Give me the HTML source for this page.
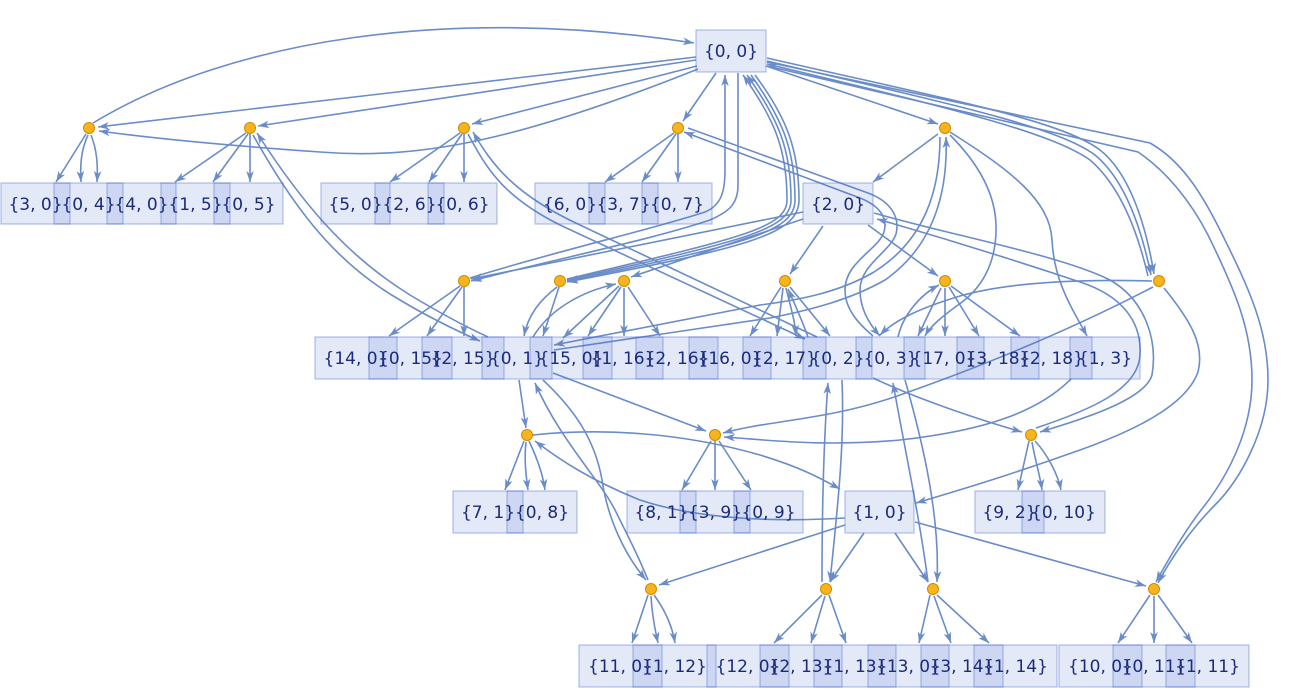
<!DOCTYPE html>
<html><head><meta charset="utf-8"><style>
html,body{margin:0;padding:0;background:#fff;}
svg{display:block}
.b rect{fill:rgb(75,110,210);fill-opacity:0.15;stroke:rgb(75,110,210);stroke-opacity:0.42;stroke-width:1.2}
.t text{font-family:"DejaVu Sans","Liberation Sans",sans-serif;font-size:17px;fill:#1a2b78;text-anchor:middle}
.e path{fill:none;stroke:#6a8cc8;stroke-width:1.6}
.dots circle{fill:#f6b51e;stroke:#d08a00;stroke-width:1}
</style></head><body>
<svg width="1296" height="692" viewBox="0 0 1296 692" xmlns="http://www.w3.org/2000/svg">
<defs>
<marker id="ae" markerUnits="userSpaceOnUse" markerWidth="14" markerHeight="10" viewBox="-12 -5 13 10" refX="0" refY="0" orient="auto"><path d="M0,0 L-11,-3.8 L-8,0 L-11,3.8 Z" fill="#6a8cc8"/></marker>
<marker id="as" markerUnits="userSpaceOnUse" markerWidth="14" markerHeight="10" viewBox="-12 -5 13 10" refX="0" refY="0" orient="auto-start-reverse"><path d="M0,0 L-11,-3.8 L-8,0 L-11,3.8 Z" fill="#6a8cc8"/></marker>
</defs>

<g class="e">
<!-- A -->
<path d="M93,123 C230,40 450,5 694,43" marker-end="url(#ae)"/>
<path d="M696,57 L98,127" marker-end="url(#ae)"/>
<path d="M698,69 C520,140 420,160 320,152 C220,145 150,138 99,131" marker-end="url(#ae)"/>
<path d="M86,134 L56,182" marker-end="url(#ae)"/>
<path d="M88,135 C81,150 80,165 81,182" marker-end="url(#ae)"/>
<path d="M91,135 C97,150 98,165 97,182" marker-end="url(#ae)"/>
<!-- B -->
<path d="M696,60 L258,126" marker-end="url(#ae)"/>
<path d="M246,133 L175,182" marker-end="url(#ae)"/>
<path d="M248,134 L213,182" marker-end="url(#ae)"/>
<path d="M250,134 L250,182" marker-end="url(#ae)"/>
<path d="M253,135 C290,200 330,260 400,300 C430,318 455,330 480,341" marker-end="url(#ae)"/>
<path d="M257,133 C300,200 345,255 410,295 C440,313 462,325 488,337" marker-start="url(#as)"/>
<!-- C -->
<path d="M697,66 L472,124" marker-end="url(#ae)"/>
<path d="M460,133 L390,182" marker-end="url(#ae)"/>
<path d="M462,134 L429,182" marker-end="url(#ae)"/>
<path d="M464,134 L464,182" marker-end="url(#ae)"/>
<path d="M468,134 C485,165 500,195 560,225 L805,339" marker-end="url(#ae)"/>
<path d="M473,132 C492,165 515,195 580,225 L817,337" marker-start="url(#as)"/>
<!-- D -->
<path d="M716,73 L683,121" marker-end="url(#ae)"/>
<path d="M674,133 L605,182" marker-end="url(#ae)"/>
<path d="M676,134 L642,182" marker-end="url(#ae)"/>
<path d="M678,134 L678,182" marker-end="url(#ae)"/>
<path d="M684,132 L860,198 C880,206 888,218 884,232 C878,250 845,262 845,290 C845,310 860,325 873,336" marker-start="url(#as)"/>
<path d="M688,128 L868,193 C892,202 900,218 896,234 C890,252 860,265 860,290 C860,310 870,325 880,336" marker-end="url(#ae)"/>
<!-- E -->
<path d="M766,66 L938,124" marker-end="url(#ae)"/>
<path d="M938,134 L873,182" marker-end="url(#ae)"/>
<path d="M950,135 C975,160 995,190 996,225 C997,265 980,290 958,305 C940,318 930,327 925,336" marker-end="url(#ae)"/>
<path d="M950,132 C1010,170 1050,200 1052,240 C1054,280 1070,305 1087,336" marker-end="url(#ae)"/>
<path d="M940,137 C940,190 925,240 874,272 C840,292 800,300 760,305 L554,345" marker-end="url(#ae)"/>
<path d="M946,137 C948,190 935,245 885,280 C850,300 810,310 770,318 L554,350" marker-start="url(#as)"/>
<!-- F -->
<path d="M470,278 C560,250 650,230 705,212 C722,205 725,190 725,170 L725,75" marker-end="url(#ae)"/>
<path d="M738,73 L738,185 C738,205 728,212 710,220 C650,240 560,258 471,281" marker-end="url(#ae)"/>
<path d="M803,212 L471,279" marker-end="url(#ae)"/>
<path d="M460,286 L389,336" marker-end="url(#ae)"/>
<path d="M462,287 L427,336" marker-end="url(#ae)"/>
<path d="M464,287 L464,336" marker-end="url(#ae)"/>
<!-- G -->
<path d="M743,75 C775,120 787,150 787,200 C787,228 740,238 567,279" marker-start="url(#as)"/>
<path d="M747,75 C779,120 791,150 791,200 C791,230 743,241 567,280" marker-start="url(#as)"/>
<path d="M751,75 C783,120 795,150 795,200 C795,232 746,244 567,281" marker-end="url(#ae)"/>
<path d="M755,75 C787,118 799,150 799,200 C799,234 749,247 567,282" marker-end="url(#ae)"/>
<path d="M557,287 C540,300 528,315 524,336" marker-end="url(#ae)"/>
<path d="M559,287 L543,336" marker-end="url(#ae)"/>
<!-- H -->
<path d="M803,219 L631,277" marker-end="url(#ae)"/>
<path d="M533,337 C548,312 578,292 616,284" marker-end="url(#ae)"/>
<path d="M619,286 L563,338" marker-end="url(#ae)"/>
<path d="M621,287 L588,336" marker-end="url(#ae)"/>
<path d="M624,288 L624,336" marker-end="url(#ae)"/>
<path d="M628,287 L660,336" marker-end="url(#ae)"/>
<!-- I -->
<path d="M823,226 L790,274" marker-end="url(#ae)"/>
<path d="M781,287 L750,336" marker-end="url(#ae)"/>
<path d="M783,288 L777,336" marker-end="url(#ae)"/>
<path d="M786,288 C790,305 795,320 796,336" marker-end="url(#ae)"/>
<path d="M790,287 L830,336" marker-end="url(#ae)"/>
<path d="M808,337 C800,315 793,300 788,289" marker-end="url(#ae)"/>
<!-- J -->
<path d="M868,225 L938,276" marker-end="url(#ae)"/>
<path d="M941,288 L918,336" marker-end="url(#ae)"/>
<path d="M945,288 L945,336" marker-end="url(#ae)"/>
<path d="M949,287 L979,336" marker-end="url(#ae)"/>
<path d="M951,286 L1020,336" marker-end="url(#ae)"/>
<path d="M898,337 C903,315 920,295 939,285" marker-end="url(#ae)"/>
<!-- K -->
<path d="M767,58 C950,100 1060,120 1100,150 C1128,172 1145,220 1154,274" marker-end="url(#ae)"/>
<path d="M767,61 C950,104 1055,126 1095,155 C1123,178 1140,222 1151,275" marker-end="url(#ae)"/>
<path d="M767,64 C950,108 1050,132 1090,160 C1118,184 1136,225 1148,276" marker-start="url(#as)"/>
<path d="M1152,281 C1080,279 1010,282 960,296 C920,308 895,320 880,335" marker-end="url(#ae)"/>
<path d="M1153,287 C1080,325 1000,360 900,395 C830,420 770,420 723,433" marker-end="url(#ae)"/>
<path d="M1164,288 C1190,320 1205,345 1198,372 C1188,400 1150,425 1080,450 C1010,475 960,490 916,503" marker-end="url(#ae)"/>
<!-- R long -->
<path d="M767,62 L1150,143 C1180,160 1200,190 1220,230 C1250,290 1268,330 1268,380 C1268,430 1240,480 1215,505 C1190,530 1170,560 1158,583" marker-end="url(#ae)"/>
<path d="M767,66 L1138,152 C1165,170 1190,200 1208,235 C1235,290 1252,330 1252,380 C1252,430 1228,475 1205,505 C1185,530 1168,560 1156,582" marker-end="url(#ae)"/>
<!-- N -->
<path d="M873,378 C920,400 980,420 1022,432" marker-end="url(#ae)"/>
<path d="M874,213 C950,235 1060,255 1110,280 C1145,300 1158,340 1152,375 C1145,400 1080,420 1040,432" marker-end="url(#ae)"/>
<path d="M1036,428 C1090,410 1138,390 1140,355 C1142,320 1120,295 1080,282 C1020,262 950,240 877,219" marker-end="url(#ae)"/>
<path d="M1071,379 C1040,410 990,430 900,440 C820,447 770,440 724,437" marker-end="url(#ae)"/>
<path d="M1029,441 L1018,490" marker-end="url(#ae)"/>
<path d="M1032,442 C1035,460 1040,475 1042,490" marker-end="url(#ae)"/>
<path d="M1035,441 C1048,455 1058,475 1061,490" marker-end="url(#ae)"/>
<!-- L -->
<path d="M519,380 L526,428" marker-end="url(#ae)"/>
<path d="M524,441 L505,490" marker-end="url(#ae)"/>
<path d="M526,442 C524,460 526,475 528,490" marker-end="url(#ae)"/>
<path d="M529,441 C538,460 543,475 545,490" marker-end="url(#ae)"/>
<path d="M533,435 C600,428 680,432 760,455 C800,467 820,478 840,489" marker-end="url(#ae)"/>
<path d="M845,518 C780,522 700,520 640,500 C590,480 560,460 535,441" marker-end="url(#ae)"/>
<!-- M -->
<path d="M553,373 L706,431" marker-end="url(#ae)"/>
<path d="M711,441 L682,490" marker-end="url(#ae)"/>
<path d="M715,441 L715,490" marker-end="url(#ae)"/>
<path d="M719,441 L751,490" marker-end="url(#ae)"/>
<!-- O -->
<path d="M535,383 C560,440 600,480 615,510 C630,540 640,560 648,580" marker-start="url(#as)"/>
<path d="M543,380 C575,410 595,440 602,480 C608,520 625,555 646,580" marker-end="url(#ae)"/>
<path d="M845,525 L659,585" marker-end="url(#ae)"/>
<path d="M648,595 L632,643" marker-end="url(#ae)"/>
<path d="M651,596 C652,615 655,630 658,643" marker-end="url(#ae)"/>
<path d="M654,595 C665,610 672,625 675,643" marker-end="url(#ae)"/>
<!-- P -->
<path d="M828,383 C823,450 822,520 822,582" marker-start="url(#as)"/>
<path d="M842,380 C845,450 836,520 830,582" marker-end="url(#ae)"/>
<path d="M864,533 L830,582" marker-end="url(#ae)"/>
<path d="M822,595 L774,643" marker-end="url(#ae)"/>
<path d="M825,596 L811,643" marker-end="url(#ae)"/>
<path d="M829,595 L846,643" marker-end="url(#ae)"/>
<!-- Q -->
<path d="M893,383 C905,450 920,520 928,582" marker-start="url(#as)"/>
<path d="M905,380 C925,450 940,520 937,582" marker-end="url(#ae)"/>
<path d="M895,533 L928,582" marker-end="url(#ae)"/>
<path d="M930,595 L919,643" marker-end="url(#ae)"/>
<path d="M934,596 L951,643" marker-end="url(#ae)"/>
<path d="M937,595 L989,643" marker-end="url(#ae)"/>
<!-- R -->
<path d="M915,522 L1146,586" marker-end="url(#ae)"/>
<path d="M1150,595 L1118,643" marker-end="url(#ae)"/>
<path d="M1154,596 L1154,643" marker-end="url(#ae)"/>
<path d="M1158,595 L1192,643" marker-end="url(#ae)"/>
</g>

<g class="b">
<rect x="696" y="30" width="70" height="42"/>
<rect x="1" y="183" width="69" height="41"/>
<rect x="54" y="183" width="69" height="41"/>
<rect x="107" y="183" width="69" height="41"/>
<rect x="161" y="183" width="69" height="41"/>
<rect x="214" y="183" width="69" height="41"/>
<rect x="321" y="183" width="69" height="41"/>
<rect x="375" y="183" width="69" height="41"/>
<rect x="428" y="183" width="69" height="41"/>
<rect x="535" y="183" width="70" height="41"/>
<rect x="589" y="183" width="69" height="41"/>
<rect x="642" y="183" width="70" height="41"/>
<rect x="803" y="183" width="70" height="41"/>
<rect x="315" y="337" width="82" height="42"/>
<rect x="369" y="337" width="83" height="42"/>
<rect x="422" y="337" width="82" height="42"/>
<rect x="482" y="337" width="70" height="42"/>
<rect x="530" y="337" width="82" height="42"/>
<rect x="583" y="337" width="80" height="42"/>
<rect x="636" y="337" width="82" height="42"/>
<rect x="689" y="337" width="82" height="42"/>
<rect x="743" y="337" width="83" height="42"/>
<rect x="803" y="337" width="69" height="42"/>
<rect x="856" y="337" width="69" height="42"/>
<rect x="904" y="337" width="80" height="42"/>
<rect x="957" y="337" width="82" height="42"/>
<rect x="1011" y="337" width="81" height="42"/>
<rect x="1070" y="337" width="70" height="42"/>
<rect x="453" y="491" width="70" height="42"/>
<rect x="507" y="491" width="70" height="42"/>
<rect x="627" y="491" width="69" height="42"/>
<rect x="680" y="491" width="70" height="42"/>
<rect x="734" y="491" width="69" height="42"/>
<rect x="845" y="491" width="69" height="42"/>
<rect x="975" y="491" width="69" height="42"/>
<rect x="1022" y="491" width="83" height="42"/>
<rect x="579" y="645" width="83" height="42"/>
<rect x="633" y="645" width="83" height="42"/>
<rect x="707" y="645" width="82" height="42"/>
<rect x="760" y="645" width="82" height="42"/>
<rect x="814" y="645" width="82" height="42"/>
<rect x="868" y="645" width="81" height="42"/>
<rect x="921" y="645" width="82" height="42"/>
<rect x="974" y="645" width="83" height="42"/>
<rect x="1059" y="645" width="83" height="42"/>
<rect x="1113" y="645" width="82" height="42"/>
<rect x="1166" y="645" width="83" height="42"/>
</g>

<g class="t">
<text x="731" y="57">{0, 0}</text>
<text x="35.5" y="210">{3, 0}</text>
<text x="88.5" y="210">{0, 4}</text>
<text x="141.5" y="210">{4, 0}</text>
<text x="195.5" y="210">{1, 5}</text>
<text x="248.5" y="210">{0, 5}</text>
<text x="355.5" y="210">{5, 0}</text>
<text x="409.5" y="210">{2, 6}</text>
<text x="462.5" y="210">{0, 6}</text>
<text x="570" y="210">{6, 0}</text>
<text x="623.5" y="210">{3, 7}</text>
<text x="677" y="210">{0, 7}</text>
<text x="838" y="210">{2, 0}</text>

<text x="356" y="364">{14, 0}</text>
<text x="410.5" y="364">{0, 15}</text>
<text x="463" y="364">{2, 15}</text>
<text x="517" y="364">{0, 1}</text>
<text x="571" y="364">{15, 0}</text>
<text x="623" y="364">{1, 16}</text>
<text x="677" y="364">{2, 16}</text>
<text x="730" y="364">{16, 0}</text>
<text x="784.5" y="364">{2, 17}</text>
<text x="837.5" y="364">{0, 2}</text>
<text x="890.5" y="364">{0, 3}</text>
<text x="944" y="364">{17, 0}</text>
<text x="998" y="364">{3, 18}</text>
<text x="1051.5" y="364">{2, 18}</text>
<text x="1105" y="364">{1, 3}</text>

<text x="488" y="518">{7, 1}</text>
<text x="542" y="518">{0, 8}</text>
<text x="661.5" y="518">{8, 1}</text>
<text x="715" y="518">{3, 9}</text>
<text x="768.5" y="518">{0, 9}</text>
<text x="879.5" y="518">{1, 0}</text>
<text x="1009.5" y="518">{9, 2}</text>
<text x="1063.5" y="518">{0, 10}</text>

<text x="620.5" y="672">{11, 0}</text>
<text x="674.5" y="672">{1, 12}</text>
<text x="748" y="672">{12, 0}</text>
<text x="801" y="672">{2, 13}</text>
<text x="855" y="672">{1, 13}</text>
<text x="908.5" y="672">{13, 0}</text>
<text x="962" y="672">{3, 14}</text>
<text x="1015.5" y="672">{1, 14}</text>
<text x="1100.5" y="672">{10, 0}</text>
<text x="1154" y="672">{0, 11}</text>
<text x="1207.5" y="672">{1, 11}</text>
</g>

<g class="dots">
<circle cx="89" cy="128" r="5.5"/>
<circle cx="250" cy="128" r="5.5"/>
<circle cx="464" cy="128" r="5.5"/>
<circle cx="678" cy="128" r="5.5"/>
<circle cx="945" cy="128" r="5.5"/>
<circle cx="464" cy="281" r="5.5"/>
<circle cx="560" cy="281" r="5.5"/>
<circle cx="624" cy="281" r="5.5"/>
<circle cx="785" cy="281" r="5.5"/>
<circle cx="945" cy="281" r="5.5"/>
<circle cx="1159" cy="281" r="5.5"/>
<circle cx="527" cy="435" r="5.5"/>
<circle cx="715" cy="435" r="5.5"/>
<circle cx="1031" cy="435" r="5.5"/>
<circle cx="651" cy="589" r="5.5"/>
<circle cx="826" cy="589" r="5.5"/>
<circle cx="933" cy="589" r="5.5"/>
<circle cx="1154" cy="589" r="5.5"/>
</g>
</svg>
</body></html>
